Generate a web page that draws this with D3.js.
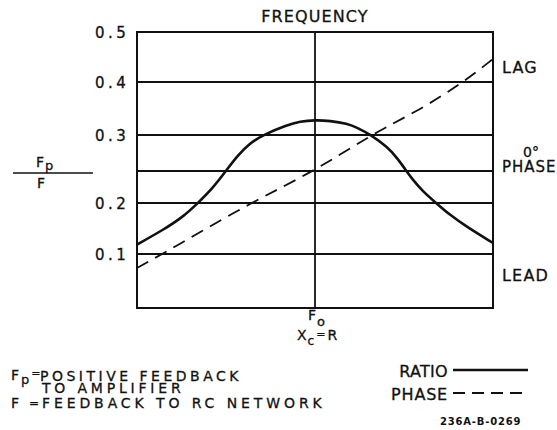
<!DOCTYPE html>
<html>
<head>
<meta charset="utf-8">
<script src="https://cdn.jsdelivr.net/npm/d3@7"></script>
<style>
  html, body { margin: 0; padding: 0; background: #fff; }
  svg { display: block; }
  text { font-family: "DejaVu Sans", "Liberation Sans", sans-serif; fill: #111; stroke: #111; stroke-width: 0.3px; }
</style>
</head>
<body>
<svg id="chart" width="557" height="430"></svg>
<script>
// ---- data ----
const yTicks = [0.1, 0.2, 0.3, 0.4, 0.5];
const yKnots = [0, 0.1, 0.2, 0.3, 0.4, 0.5];
const ratioFreq = [0.1, 0.14, 0.181, 0.22, 0.267, 0.316, 0.365, 0.431, 0.517, 0.696, 0.823, 1.0,
                   1.214, 1.513, 1.745, 2.037, 2.54, 2.926, 3.203, 3.553, 4.045, 4.72, 5.73, 7.14, 10];
const ratioVal  = [0.1186, 0.1471, 0.1725, 0.200, 0.2221, 0.2471, 0.2691, 0.2882, 0.3009, 0.3189, 0.3255, 0.3283,
                   0.3268, 0.3217, 0.3132, 0.3009, 0.2831, 0.2647, 0.250, 0.2338, 0.2169, 0.2015, 0.1765, 0.1529, 0.1216];
const phaseFreq = [0.1, 0.163, 0.431, 1, 2.09, 3.89, 6.96, 10];
const phaseDeg  = [-74.6, -58.5, -24.6, 0, 28.5, 46.9, 69.2, 86.2];
const phaseLabels = [{deg: 80, text: "LAG"}, {deg: -80, text: "LEAD"}];

// ---- scales ----
const svg = d3.select("#chart");
svg.append("rect").attr("width", 557).attr("height", 430).attr("fill", "#fff");

const x = d3.scaleLog().domain([0.1, 10]).range([137, 493]);
const y = d3.scaleLinear().domain(yKnots).range([308, 254, 203, 135, 82, 32]);
const py = d3.scaleLinear().domain([-90, 90]).range([288, 54]);

const ink = "#111";
const g = svg.append("g");

// gridlines
g.selectAll("line.grid").data(yTicks).join("line")
  .attr("x1", x(0.1)).attr("x2", x(10))
  .attr("y1", d => y(d)).attr("y2", d => y(d))
  .attr("stroke", ink).attr("stroke-width", 1.8);

// 0 degree phase line
g.append("line")
  .attr("x1", x(0.1)).attr("x2", x(10))
  .attr("y1", py(0)).attr("y2", py(0))
  .attr("stroke", ink).attr("stroke-width", 1.8);

// frame
g.append("rect")
  .attr("x", x(0.1)).attr("y", y(0.5))
  .attr("width", x(10) - x(0.1)).attr("height", y(0) - y(0.5))
  .attr("fill", "none").attr("stroke", ink).attr("stroke-width", 2);

// F0 vertical line
g.append("line")
  .attr("x1", x(1)).attr("x2", x(1))
  .attr("y1", y(0.5)).attr("y2", y(0))
  .attr("stroke", ink).attr("stroke-width", 1.8);

// y axis labels
const yAxis = d3.axisLeft(y).tickValues(yTicks).tickSize(0).tickFormat(d3.format(".1f"));
const ax = svg.append("g").attr("transform", `translate(${x(0.1)},0)`).call(yAxis);
ax.select(".domain").remove();
ax.selectAll("text")
  .attr("x", -42).attr("text-anchor", "start").attr("dy", "0.36em")
  .style("font-family", '"DejaVu Sans", sans-serif')
  .style("font-size", "15px").style("letter-spacing", "3.5px")
  .attr("fill", ink).attr("stroke", ink).attr("stroke-width", 0.3);

// ratio curve
const ratioData = ratioFreq.map((f, i) => [f, ratioVal[i]]);
g.append("path").datum(ratioData)
  .attr("d", d3.line().x(d => x(d[0])).y(d => y(d[1])).curve(d3.curveBasis))
  .attr("fill", "none").attr("stroke", ink).attr("stroke-width", 2.6);

// phase curve
const phaseData = phaseFreq.map((f, i) => [f, phaseDeg[i]]);
g.append("path").datum(phaseData)
  .attr("d", d3.line().x(d => x(d[0])).y(d => py(d[1])).curve(d3.curveBasis))
  .attr("fill", "none").attr("stroke", ink).attr("stroke-width", 1.8)
  .attr("stroke-dasharray", "13,8");

// title
svg.append("text").attr("x", x(1)).attr("y", 22).attr("text-anchor", "middle")
  .style("font-size", "16px").style("letter-spacing", "1.1px").text("FREQUENCY");

// right phase labels
svg.selectAll("text.ph").data(phaseLabels).join("text")
  .attr("x", 502).attr("y", d => py(d.deg)).attr("dy", "0.36em")
  .style("font-size", "16px").style("letter-spacing", "1.2px").text(d => d.text);
const zp = svg.append("text").attr("y", py(0) - 14);
zp.append("tspan").attr("x", 531).attr("text-anchor", "middle").style("font-size", "14px").text("0°");
zp.append("tspan").attr("x", 502).attr("dy", 15).style("font-size", "15px").style("letter-spacing", "1px").text("PHASE");

// Fp / F fraction
const fr = svg.append("text").attr("x", 36).attr("y", 167).style("font-size", "14px");
fr.append("tspan").text("F");
fr.append("tspan").attr("dx", 1).attr("dy", 3).style("font-size", "13px").text("p");
svg.append("line").attr("x1", 13).attr("x2", 93).attr("y1", 173).attr("y2", 173)
  .attr("stroke", ink).attr("stroke-width", 1.6);
svg.append("text").attr("x", 37).attr("y", 188).style("font-size", "14px").text("F");

// F0 / Xc = R
const fo = svg.append("text").attr("x", 308).attr("y", 320).style("font-size", "14px");
fo.append("tspan").text("F");
fo.append("tspan").attr("dx", 1).attr("dy", 6).style("font-size", "13px").text("o");
const xc = svg.append("text").attr("x", 297).attr("y", 340).style("font-size", "14px");
xc.append("tspan").text("X");
xc.append("tspan").attr("dx", 1).attr("dy", 5).style("font-size", "12px").text("c");
xc.append("tspan").attr("dx", 2).attr("dy", -7).style("font-size", "11px").text("=");
xc.append("tspan").attr("dx", 2).attr("dy", 2).style("font-size", "14px").text("R");

// definitions (bottom-left)
const d1 = svg.append("text").attr("x", 11).attr("y", 380).style("font-size", "14px");
d1.append("tspan").text("F");
d1.append("tspan").attr("dx", 2).attr("dy", 4).style("font-size", "13px").text("p");
d1.append("tspan").attr("dx", 2).attr("dy", -7).style("font-size", "11px").text("=");
const def1 = svg.append("text").attr("y", 381).style("font-size", "14px");
def1.append("tspan").attr("x", 40).style("letter-spacing", "3.5px").text("POSITIVE FEEDBACK");
def1.append("tspan").attr("x", 42).attr("dy", 12).style("letter-spacing", "3.8px").text("TO AMPLIFIER");
svg.append("text").attr("x", 11).attr("y", 408).style("font-size", "14px").text("F");
svg.append("text").attr("x", 29).attr("y", 407).style("font-size", "12px").text("=");
svg.append("text").attr("x", 42).attr("y", 408).style("font-size", "14px")
  .style("letter-spacing", "3.9px").text("FEEDBACK TO RC NETWORK");

// legend
svg.append("text").attr("x", 448).attr("y", 377).attr("text-anchor", "end")
  .style("font-size", "16px").style("letter-spacing", "0.3px").text("RATIO");
svg.append("line").attr("x1", 453).attr("x2", 528).attr("y1", 370).attr("y2", 370)
  .attr("stroke", ink).attr("stroke-width", 2.4);
svg.append("text").attr("x", 448).attr("y", 400).attr("text-anchor", "end")
  .style("font-size", "16px").style("letter-spacing", "0.8px").text("PHASE");
svg.append("line").attr("x1", 453).attr("x2", 528).attr("y1", 393).attr("y2", 393)
  .attr("stroke", ink).attr("stroke-width", 1.8).attr("stroke-dasharray", "12,7");

// figure code
svg.append("text").attr("x", 440).attr("y", 425)
  .style("font-size", "10px").style("font-weight", "bold").style("letter-spacing", "0.8px")
  .style("stroke-width", "0px")
  .text("236A-B-0269");
</script>
</body>
</html>
